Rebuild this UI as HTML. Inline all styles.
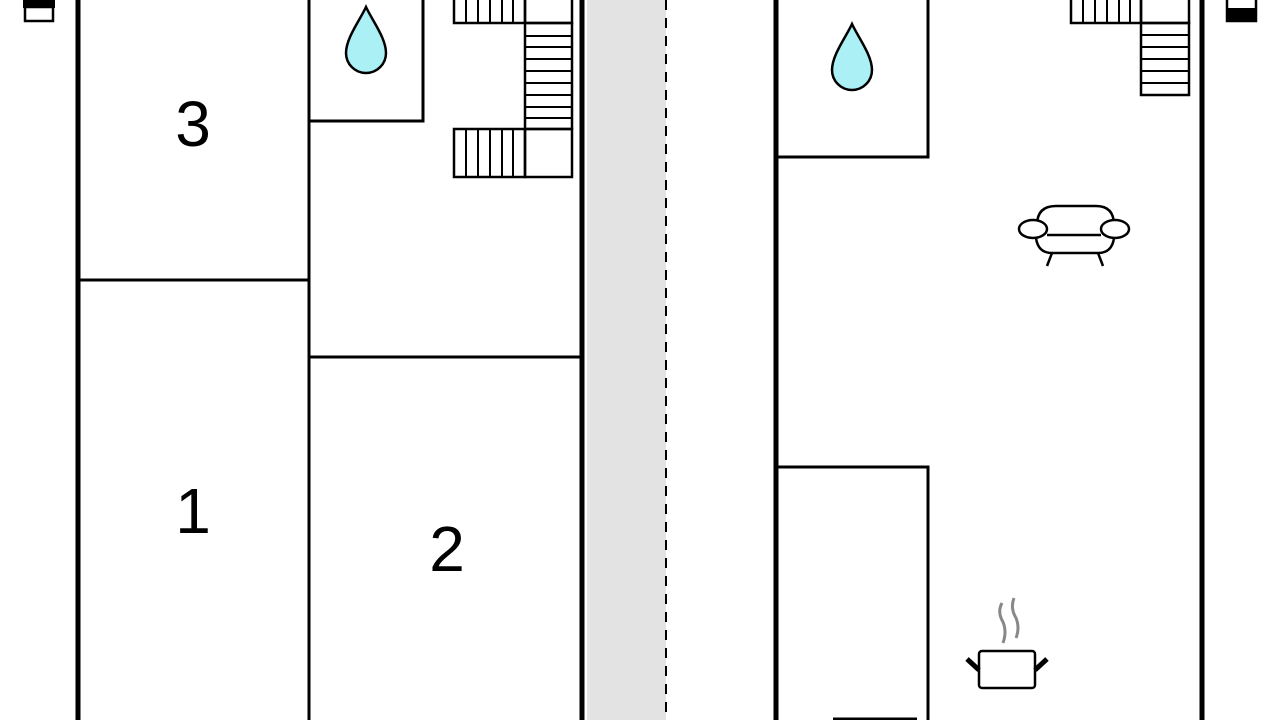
<!DOCTYPE html>
<html><head><meta charset="utf-8"><style>
html,body{margin:0;padding:0;background:#fff;width:1280px;height:720px;overflow:hidden}
svg{display:block}
</style></head><body>
<svg width="1280" height="720" viewBox="0 0 1280 720" xmlns="http://www.w3.org/2000/svg">
<rect x="587" y="0" width="79" height="720" fill="#e3e3e3"/>
<line x1="666" y1="0" x2="666" y2="720" stroke="#000" stroke-width="2" stroke-dasharray="10,8"/>
<g stroke="#000" fill="none">
<!-- left building -->
<line x1="78" y1="0" x2="78" y2="720" stroke-width="5"/>
<line x1="582" y1="0" x2="582" y2="720" stroke-width="5"/>
<line x1="309" y1="0" x2="309" y2="720" stroke-width="3"/>
<line x1="78" y1="280" x2="309" y2="280" stroke-width="3"/>
<line x1="309" y1="357" x2="582" y2="357" stroke-width="3"/>
<polyline points="423,0 423,121 309,121" stroke-width="3"/>
<!-- left stairs -->
<g stroke-width="2.5">
<rect x="454" y="-2" width="71" height="25"/>
<rect x="525" y="-2" width="47" height="25"/>
<rect x="525" y="23" width="47" height="106"/>
<rect x="454" y="129" width="71" height="48"/>
<rect x="525" y="129" width="47" height="48"/>
</g>
<g stroke-width="2">
<path d="M466,0V23M478,0V23M490,0V23M502,0V23M513,0V23"/>
<path d="M466,129V177M478,129V177M490,129V177M502,129V177M513,129V177"/>
<path d="M525,36H572M525,47H572M525,59H572M525,71H572M525,83H572M525,95H572M525,107H572M525,118H572"/>
</g>
<!-- right building -->
<line x1="776" y1="0" x2="776" y2="720" stroke-width="5"/>
<line x1="1202" y1="0" x2="1202" y2="720" stroke-width="5"/>
<polyline points="928,0 928,157 776,157" stroke-width="3"/>
<polyline points="776,467 928,467 928,720" stroke-width="3"/>
<line x1="833" y1="719" x2="917" y2="719" stroke-width="3"/>
<g stroke-width="2.5">
<rect x="1071" y="-2" width="70" height="25"/>
<rect x="1141" y="-2" width="48" height="25"/>
<rect x="1141" y="23" width="48" height="72"/>
</g>
<g stroke-width="2">
<path d="M1083,0V23M1095,0V23M1107,0V23M1119,0V23M1130,0V23"/>
<path d="M1141,35H1189M1141,47H1189M1141,59H1189M1141,71H1189M1141,83H1189"/>
</g>
<!-- sofa -->
<g stroke-width="2.5">
<path d="M1037,225 Q1037,206 1056,206 H1096 Q1114,206 1114,225"/>
<ellipse cx="1033" cy="229" rx="14" ry="9" fill="#fff"/>
<ellipse cx="1115" cy="229" rx="14" ry="9" fill="#fff"/>
<line x1="1047" y1="235" x2="1101" y2="235"/>
<path d="M1036,238 Q1038,253 1052,253 H1098 Q1112,253 1114,238"/>
<line x1="1052" y1="253" x2="1047" y2="266"/>
<line x1="1098" y1="253" x2="1103" y2="266"/>
</g>
<!-- pot -->
<rect x="979" y="651" width="56" height="37" rx="3" stroke-width="2.5"/>
<line x1="967" y1="659" x2="979" y2="670" stroke-width="5"/>
<line x1="1047" y1="659" x2="1035" y2="670" stroke-width="5"/>
<path d="M1002,603 Q997,612 1003,622 Q1007,632 1003,643" stroke="#888" stroke-width="3"/>
<path d="M1014,598 Q1010,608 1016,618 Q1020,628 1016,638" stroke="#888" stroke-width="3"/>
</g>
<!-- drops -->
<path d="M366,7 C360,20 346,38 346,53 A20,20 0 0 0 386,53 C386,38 372,20 366,7Z" fill="#aaf0f5" stroke="#000" stroke-width="2.5"/>
<path d="M852,24 C846,37 832,55 832,70 A20,20 0 0 0 872,70 C872,55 858,37 852,24Z" fill="#aaf0f5" stroke="#000" stroke-width="2.5"/>
<!-- corner icons -->
<rect x="23" y="0" width="32" height="8" fill="#000"/>
<rect x="25" y="7" width="28" height="14" fill="#fff" stroke="#000" stroke-width="2.5"/>
<rect x="1227" y="-2" width="29" height="23" fill="#fff" stroke="#000" stroke-width="2.5"/>
<rect x="1226" y="8" width="31" height="14" fill="#000"/>
<text x="193" y="146" font-family="Liberation Sans, sans-serif" font-size="64" text-anchor="middle">3</text>
<text x="193" y="533" font-family="Liberation Sans, sans-serif" font-size="64" text-anchor="middle">1</text>
<text x="447" y="571" font-family="Liberation Sans, sans-serif" font-size="64" text-anchor="middle">2</text>
</svg>
</body></html>
